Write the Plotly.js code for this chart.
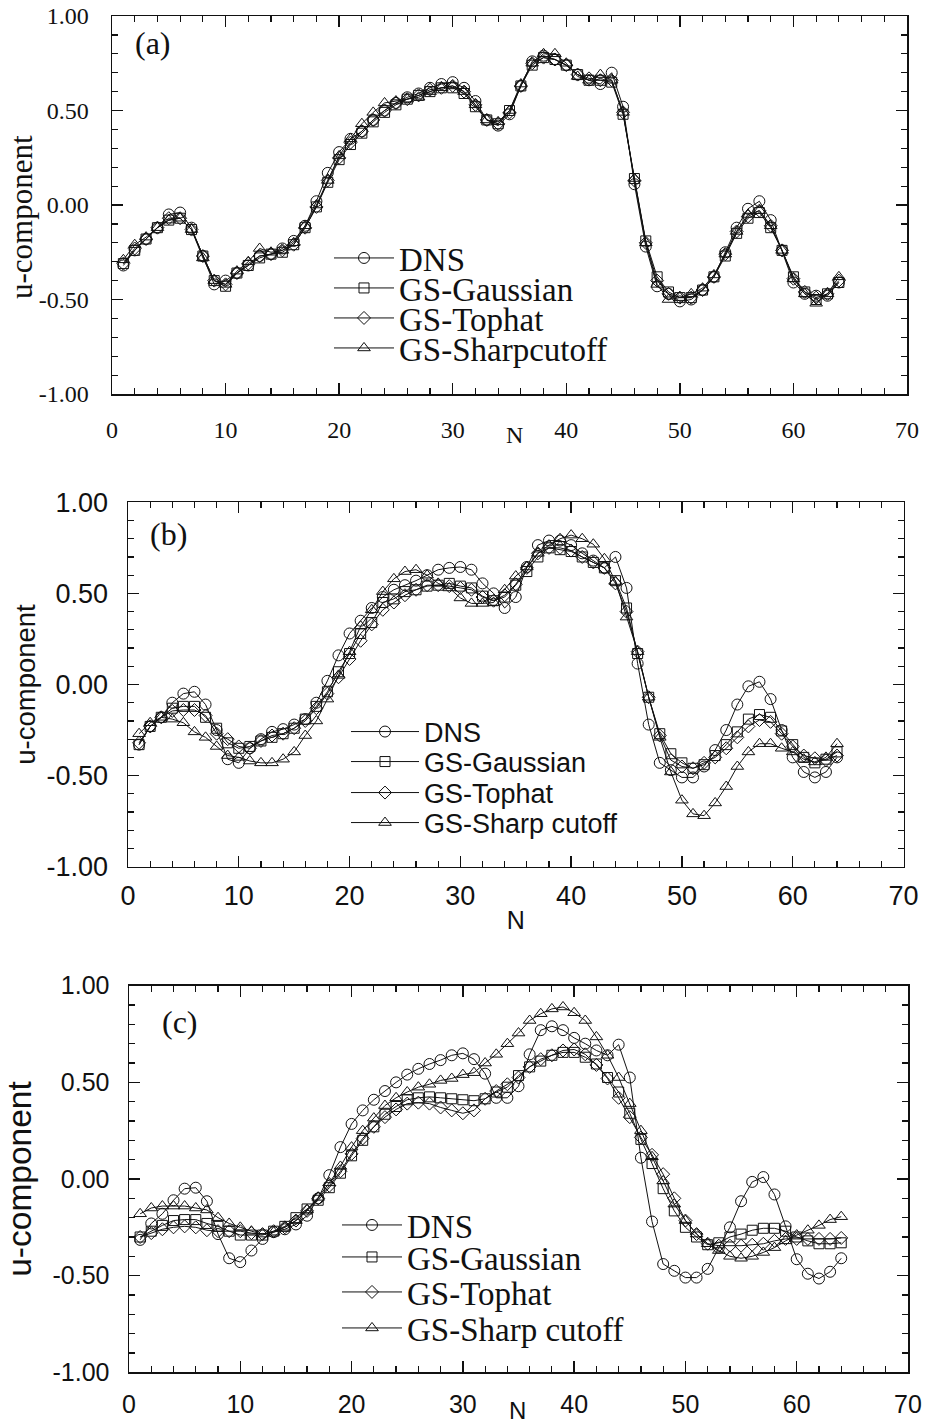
<!DOCTYPE html>
<html>
<head>
<meta charset="utf-8">
<script src="https://cdn.plot.ly/plotly-3.0.1.min.js"></script>
<style>html,body{margin:0;padding:0;background:#fff;}#chart{width:928px;height:1423px;}</style>
</head>
<body>
<div id="chart"></div>
<script>
// ---------------- DATA ----------------
const N = Array.from({length: 64}, (_, i) => i + 1);
const seriesNames = ["DNS", "GS-Gaussian", "GS-Tophat", "GS-Sharpcutoff"];
const seriesNamesBC = ["DNS", "GS-Gaussian", "GS-Tophat", "GS-Sharp cutoff"];
const panelLabels = ["(a)", "(b)", "(c)"];
const xTitle = "N";
const yTitle = "u-component";
const yTickVals = [-1, -0.5, 0, 0.5, 1];
const yTickText = ["-1.00", "-0.50", "0.00", "0.50", "1.00"];
const xTickVals = [0, 10, 20, 30, 40, 50, 60, 70];
const xTickText = ["0", "10", "20", "30", "40", "50", "60", "70"];

// Panel (a)
const dnsA = [-0.32,-0.24,-0.18,-0.12,-0.05,-0.04,-0.12,-0.27,-0.42,-0.40,-0.36,-0.32,-0.27,-0.26,-0.23,-0.19,-0.11,0.02,0.17,0.28,0.35,0.39,0.45,0.50,0.54,0.57,0.59,0.62,0.64,0.65,0.62,0.55,0.45,0.42,0.48,0.63,0.76,0.79,0.77,0.74,0.69,0.66,0.64,0.70,0.52,0.11,-0.22,-0.43,-0.47,-0.51,-0.50,-0.45,-0.38,-0.25,-0.12,-0.02,0.02,-0.08,-0.24,-0.41,-0.47,-0.48,-0.48,-0.41];
const gaussA = [-0.31,-0.24,-0.18,-0.12,-0.08,-0.07,-0.13,-0.27,-0.40,-0.43,-0.36,-0.32,-0.28,-0.26,-0.25,-0.21,-0.12,-0.01,0.12,0.24,0.32,0.38,0.44,0.49,0.53,0.56,0.58,0.60,0.62,0.62,0.59,0.52,0.45,0.43,0.50,0.63,0.74,0.78,0.77,0.74,0.69,0.66,0.66,0.65,0.48,0.14,-0.19,-0.38,-0.46,-0.49,-0.49,-0.45,-0.38,-0.27,-0.15,-0.07,-0.04,-0.12,-0.24,-0.38,-0.46,-0.50,-0.47,-0.41];
const tophatA = [-0.31,-0.23,-0.18,-0.12,-0.07,-0.07,-0.13,-0.27,-0.40,-0.42,-0.36,-0.31,-0.27,-0.26,-0.24,-0.21,-0.12,-0.01,0.13,0.25,0.33,0.39,0.45,0.50,0.54,0.56,0.58,0.61,0.62,0.63,0.60,0.53,0.45,0.43,0.49,0.63,0.75,0.78,0.77,0.74,0.69,0.67,0.66,0.66,0.49,0.13,-0.20,-0.40,-0.47,-0.49,-0.49,-0.45,-0.38,-0.26,-0.14,-0.06,-0.03,-0.11,-0.24,-0.39,-0.46,-0.49,-0.47,-0.40];
const sharpA = [-0.29,-0.21,-0.17,-0.12,-0.08,-0.07,-0.13,-0.28,-0.40,-0.42,-0.35,-0.30,-0.23,-0.25,-0.24,-0.20,-0.11,0.00,0.13,0.26,0.35,0.43,0.49,0.54,0.55,0.56,0.57,0.60,0.62,0.63,0.60,0.53,0.45,0.44,0.50,0.64,0.75,0.80,0.80,0.75,0.68,0.66,0.69,0.66,0.49,0.14,-0.20,-0.42,-0.50,-0.49,-0.47,-0.44,-0.37,-0.26,-0.14,-0.05,-0.03,-0.11,-0.24,-0.39,-0.47,-0.52,-0.47,-0.38];

// Panel (b)
const dnsB = [-0.33,-0.23,-0.18,-0.10,-0.05,-0.04,-0.11,-0.25,-0.41,-0.43,-0.35,-0.30,-0.26,-0.245,-0.22,-0.19,-0.10,0.02,0.16,0.28,0.35,0.42,0.48,0.52,0.545,0.57,0.60,0.63,0.64,0.645,0.63,0.555,0.50,0.42,0.48,0.645,0.765,0.79,0.79,0.765,0.72,0.68,0.64,0.70,0.53,0.115,-0.22,-0.43,-0.47,-0.51,-0.51,-0.45,-0.36,-0.25,-0.11,-0.01,0.015,-0.08,-0.25,-0.40,-0.48,-0.51,-0.48,-0.40];
const gaussB = [-0.33,-0.23,-0.18,-0.13,-0.12,-0.12,-0.18,-0.24,-0.32,-0.35,-0.34,-0.31,-0.29,-0.27,-0.24,-0.19,-0.12,-0.04,0.07,0.17,0.28,0.34,0.45,0.47,0.51,0.52,0.54,0.545,0.555,0.54,0.53,0.485,0.46,0.48,0.545,0.62,0.70,0.75,0.74,0.73,0.70,0.67,0.64,0.57,0.42,0.17,-0.07,-0.27,-0.38,-0.43,-0.46,-0.44,-0.39,-0.33,-0.26,-0.19,-0.165,-0.18,-0.255,-0.33,-0.40,-0.43,-0.41,-0.37];
const tophatB = [-0.32,-0.23,-0.18,-0.145,-0.14,-0.14,-0.17,-0.27,-0.30,-0.34,-0.35,-0.31,-0.28,-0.27,-0.24,-0.20,-0.13,-0.05,0.04,0.14,0.24,0.33,0.41,0.45,0.49,0.52,0.545,0.545,0.54,0.53,0.52,0.48,0.46,0.49,0.55,0.64,0.72,0.75,0.75,0.735,0.70,0.67,0.64,0.555,0.40,0.18,-0.07,-0.28,-0.415,-0.45,-0.46,-0.43,-0.40,-0.35,-0.29,-0.23,-0.195,-0.205,-0.27,-0.34,-0.39,-0.405,-0.415,-0.39];
const sharpB = [-0.27,-0.21,-0.18,-0.19,-0.21,-0.26,-0.29,-0.34,-0.39,-0.40,-0.42,-0.43,-0.43,-0.41,-0.37,-0.28,-0.20,-0.08,0.05,0.18,0.32,0.41,0.51,0.58,0.62,0.63,0.60,0.555,0.53,0.475,0.445,0.445,0.45,0.52,0.595,0.645,0.72,0.765,0.80,0.82,0.80,0.77,0.69,0.565,0.37,0.18,-0.07,-0.29,-0.48,-0.635,-0.71,-0.72,-0.65,-0.56,-0.45,-0.37,-0.325,-0.325,-0.35,-0.37,-0.41,-0.425,-0.40,-0.325];

// Panel (c)
const dnsC = [-0.315,-0.23,-0.18,-0.11,-0.05,-0.045,-0.115,-0.285,-0.41,-0.43,-0.37,-0.31,-0.275,-0.26,-0.235,-0.19,-0.10,0.02,0.165,0.285,0.355,0.41,0.455,0.50,0.54,0.57,0.595,0.615,0.64,0.65,0.62,0.545,0.42,0.42,0.48,0.645,0.77,0.79,0.77,0.73,0.70,0.665,0.64,0.695,0.525,0.11,-0.22,-0.44,-0.475,-0.51,-0.51,-0.465,-0.355,-0.25,-0.115,-0.015,0.01,-0.08,-0.245,-0.415,-0.49,-0.515,-0.48,-0.41];
const gaussC = [-0.30,-0.27,-0.24,-0.215,-0.21,-0.21,-0.23,-0.245,-0.27,-0.29,-0.29,-0.29,-0.27,-0.245,-0.20,-0.155,-0.11,-0.045,0.03,0.12,0.20,0.27,0.335,0.375,0.41,0.42,0.425,0.42,0.415,0.41,0.405,0.415,0.45,0.475,0.535,0.58,0.61,0.64,0.655,0.655,0.63,0.595,0.525,0.45,0.34,0.205,0.08,-0.05,-0.165,-0.25,-0.30,-0.34,-0.33,-0.30,-0.285,-0.265,-0.255,-0.255,-0.27,-0.30,-0.32,-0.335,-0.335,-0.33];
const tophatC = [-0.30,-0.28,-0.26,-0.25,-0.245,-0.25,-0.265,-0.27,-0.27,-0.27,-0.28,-0.285,-0.27,-0.25,-0.215,-0.165,-0.10,-0.035,0.04,0.13,0.21,0.27,0.32,0.36,0.39,0.395,0.39,0.37,0.355,0.34,0.355,0.415,0.455,0.49,0.525,0.58,0.62,0.64,0.665,0.67,0.645,0.59,0.52,0.42,0.32,0.215,0.125,0.025,-0.10,-0.215,-0.285,-0.335,-0.345,-0.345,-0.345,-0.34,-0.335,-0.32,-0.31,-0.31,-0.31,-0.31,-0.31,-0.305];
const sharpC = [-0.18,-0.15,-0.14,-0.14,-0.14,-0.15,-0.16,-0.20,-0.23,-0.25,-0.27,-0.285,-0.275,-0.25,-0.215,-0.16,-0.095,-0.02,0.065,0.165,0.25,0.315,0.38,0.42,0.45,0.475,0.49,0.51,0.52,0.54,0.55,0.60,0.645,0.70,0.755,0.82,0.855,0.88,0.89,0.86,0.82,0.735,0.64,0.525,0.39,0.25,0.115,-0.01,-0.13,-0.215,-0.285,-0.335,-0.37,-0.40,-0.41,-0.40,-0.38,-0.355,-0.32,-0.29,-0.265,-0.24,-0.21,-0.195];

// ---------------- STYLE ----------------
const SERIF = "Liberation Serif, Times New Roman, serif";
const SANS = "Liberation Sans, Arial, sans-serif";
const INK = "#111";
const symbols = ["circle-open", "square-open", "diamond-open", "triangle-up-open"];
const markerSizes = [11, 10, 10, 11];

const panels = [
  {data: [dnsA, gaussA, tophatA, sharpA], names: seriesNames, xd: [112/928, 907/928], yd: [1-394/1423, 1-16/1423],
   tickFont: SERIF, tickSize: 24, xStand: 14, yStand: 17,
   legFont: SERIF, legSize: 33, legX: 334, legW: 60, legY: [258, 288, 318, 348],
   titleFont: SERIF, titleSize: 31, titleStand: 3, titleAnno: [21, 217], labelPos: [153, 43]},
  {data: [dnsB, gaussB, tophatB, sharpB], names: seriesNamesBC, xd: [128/928, 903.5/928], yd: [1-866.7/1423, 1-502.3/1423],
   tickFont: SANS, tickSize: 27, xStand: 4, yStand: 13,
   legFont: SANS, legSize: 27, legX: 351, legW: 68, legY: [732, 762, 793, 823],
   titleFont: SANS, titleSize: 27.5, titleStand: 3, titleAnno: null, labelPos: [168, 534]},
  {data: [dnsC, gaussC, tophatC, sharpC], names: seriesNamesBC, xd: [129/928, 908/928], yd: [1-1372.3/1423, 1-985.7/1423],
   tickFont: SANS, tickSize: 25, xStand: 9, yStand: 13,
   legFont: SERIF, legSize: 33, legX: 342, legW: 60, legY: [1225, 1257, 1292, 1328],
   titleFont: SANS, titleSize: 33.5, titleStand: 11, titleAnno: null, labelPos: [180, 1022]}
];

const traces = [];
const layout = {
  width: 928, height: 1423,
  margin: {l: 0, r: 0, t: 0, b: 0},
  paper_bgcolor: "#fff", plot_bgcolor: "#fff",
  showlegend: true,
  annotations: []
};

function axisCommon(font, size) {
  return {
    showgrid: false, zeroline: false,
    showline: true, linecolor: INK, linewidth: 1.5, mirror: "ticks",
    ticks: "inside", ticklen: 11, tickwidth: 1.3, tickcolor: INK,
    tickfont: {family: font, size: size, color: INK},
    tickmode: "array",
    minor: {ticks: "inside", ticklen: 6, tickwidth: 1.2, tickcolor: INK, showgrid: false},
    fixedrange: true
  };
}

let legendCount = 0;
panels.forEach((p, pi) => {
  const k = pi === 0 ? "" : String(pi + 1);
  const xa = "x" + k, ya = "y" + k;
  layout["xaxis" + k] = Object.assign(axisCommon(p.tickFont, p.tickSize), {
    domain: p.xd, anchor: ya, range: [0, 70], tickvals: xTickVals, ticktext: xTickText,
    ticklabelstandoff: p.xStand
  });
  layout["xaxis" + k].minor.tick0 = 0;
  layout["xaxis" + k].minor.dtick = 2;
  layout["yaxis" + k] = Object.assign(axisCommon(p.tickFont, p.tickSize), {
    domain: p.yd, anchor: xa, range: [-1, 1], tickvals: yTickVals, ticktext: yTickText,
    ticklabelstandoff: p.yStand
  });
  if (p.titleAnno) {
    layout.annotations.push({
      xref: "paper", yref: "paper", x: p.titleAnno[0] / 928, y: 1 - p.titleAnno[1] / 1423,
      text: yTitle, textangle: -90, showarrow: false, xanchor: "center", yanchor: "middle",
      font: {family: p.titleFont, size: p.titleSize, color: INK}
    });
  } else {
    layout["yaxis" + k].title = {text: yTitle, font: {family: p.titleFont, size: p.titleSize, color: INK}, standoff: p.titleStand};
  }
  layout["yaxis" + k].minor.tick0 = -1;
  layout["yaxis" + k].minor.dtick = 0.1;
  if (pi === 1) {
    layout["xaxis" + k].title = {text: xTitle, font: {family: SANS, size: 25, color: INK}, standoff: 2};
  }

  p.data.forEach((ys, si) => {
    legendCount++;
    const lg = legendCount === 1 ? "legend" : "legend" + legendCount;
    traces.push({
      x: N, y: ys, xaxis: xa, yaxis: ya, type: "scatter", mode: "lines+markers",
      name: p.names[si], legend: lg,
      line: {color: INK, width: 1},
      marker: {symbol: symbols[si], size: markerSizes[si], color: INK, line: {width: 1, color: INK}},
      hoverinfo: "skip"
    });
    layout[lg] = {
      x: (p.legX - 5) / 928, y: 1 - p.legY[si] / 1423, xanchor: "left", yanchor: "middle",
      bgcolor: "rgba(0,0,0,0)", borderwidth: 0, itemwidth: p.legW,
      font: {family: p.legFont, size: p.legSize, color: INK},
      itemclick: false, itemdoubleclick: false
    };
  });

  layout.annotations.push({
    xref: "paper", yref: "paper", x: p.labelPos[0] / 928, y: 1 - p.labelPos[1] / 1423,
    text: panelLabels[pi], showarrow: false, xanchor: "center", yanchor: "middle",
    font: {family: SERIF, size: 32, color: INK}
  });
});

// "N" axis labels for panels (a) and (c)
layout.annotations.push({xref: "paper", yref: "paper", x: 514/928, y: 1 - 435/1423, text: xTitle,
  showarrow: false, xanchor: "center", yanchor: "middle", font: {family: SERIF, size: 24, color: INK}});
layout.annotations.push({xref: "paper", yref: "paper", x: 517/928, y: 1 - 1410/1423, text: xTitle,
  showarrow: false, xanchor: "center", yanchor: "middle", font: {family: SANS, size: 24, color: INK}});

Plotly.newPlot("chart", traces, layout, {displayModeBar: false, staticPlot: true});
</script>
</body>
</html>
